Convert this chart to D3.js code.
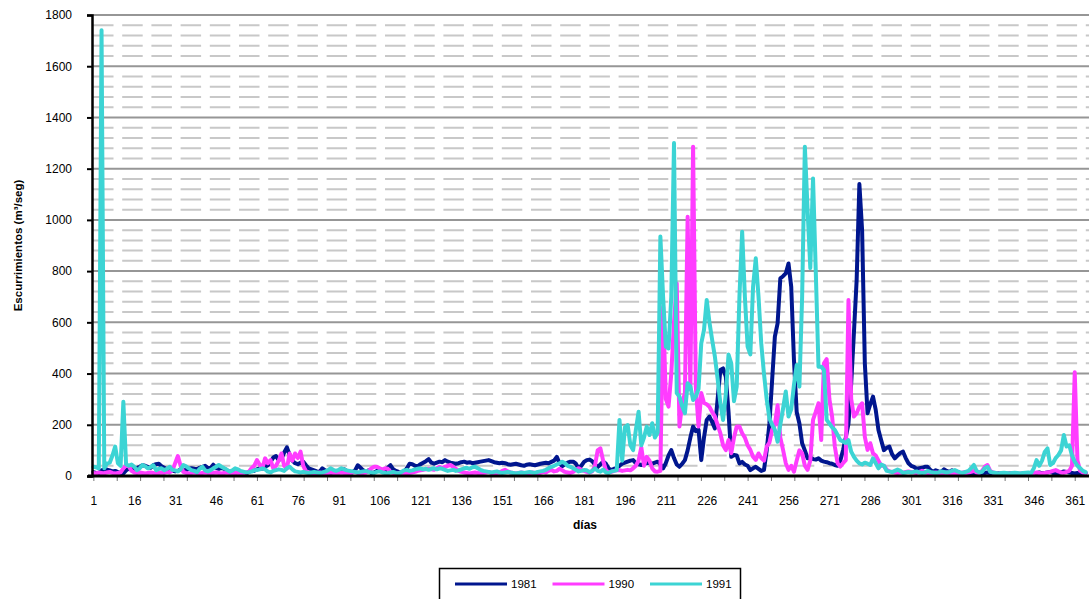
<!DOCTYPE html>
<html><head><meta charset="utf-8">
<script src="https://cdn.jsdelivr.net/npm/d3@7"></script>
<style>
body{margin:0;background:#fff}
svg{display:block}
text{font-family:Arial,"Liberation Sans",sans-serif;fill:#000}
</style>
</head><body>
<svg id="c" width="1089" height="599"></svg>
<script>
// ---------------- DATA ----------------
const days = d3.range(1, 366);            // día 1 … 365 (categories)
const xTickLabels = [1,16,31,46,61,76,91,106,121,136,151,166,181,196,211,226,241,256,271,286,301,316,331,346,361];
const yTickValues = [0,200,400,600,800,1000,1200,1400,1600,1800];
const seriesNames = ["1981","1990","1991"];
const yAxisTitle = "Escurrimientos (m³/seg)";
const xAxisTitle = "días";

const q1981 = [
15,12,10,22,26,25,22,18,20,15,
12,10,22,30,25,28,32,36,42,40,
36,32,42,46,48,38,32,26,22,20,
18,20,26,24,22,28,30,28,26,32,
36,40,32,30,44,32,28,32,28,22,
16,15,12,15,12,10,10,16,20,20,
26,30,28,36,42,56,72,78,62,68,
92,112,82,60,50,46,52,56,42,30,
26,22,18,16,30,22,16,12,10,15,
18,22,26,20,16,14,22,42,32,22,
16,22,12,14,20,28,24,20,32,42,
26,20,16,14,16,30,48,46,40,38,
46,52,58,66,52,48,52,56,54,62,
56,52,50,48,50,54,56,52,54,50,
52,54,56,58,60,62,58,54,52,50,
52,50,46,44,46,48,45,42,40,44,
46,44,42,45,48,50,52,50,55,60,
75,50,38,46,52,56,56,48,30,40,
55,62,64,58,45,35,45,56,48,30,
23,28,30,40,48,52,56,60,62,50,
46,43,46,50,52,48,52,56,45,30,
50,80,101,70,45,36,48,62,100,150,
193,175,180,62,150,219,232,210,186,300,
414,420,388,250,75,82,80,49,55,45,
40,23,30,36,28,20,24,100,205,375,
544,596,772,780,791,830,739,453,250,205,
128,100,69,72,66,64,69,60,56,54,
50,48,43,40,60,101,150,205,362,560,
765,1140,960,440,245,280,310,258,180,140,
101,110,115,85,69,80,90,95,70,50,
40,36,28,30,32,36,36,24,16,22,
18,16,26,20,16,22,14,12,10,12,
14,12,10,12,10,8,10,12,14,10,
8,10,12,10,8,8,10,12,10,8,
8,10,8,10,12,10,12,14,10,12,
14,16,12,10,12,14,18,16,14,12,
10,12,8,10,12];

const q1990 = [
12,10,14,12,10,14,16,12,10,12,
14,30,42,38,20,14,12,14,12,10,
12,14,12,10,12,14,12,16,14,22,
50,78,40,16,12,10,12,14,12,10,
12,14,12,10,12,14,12,10,12,14,
12,10,12,14,12,10,14,16,30,40,
62,45,30,69,50,62,30,40,60,88,
40,30,88,60,88,70,95,40,18,14,
12,10,12,14,12,10,12,14,12,10,
12,14,12,10,12,14,16,12,10,12,
14,20,30,36,36,30,24,30,28,16,
12,10,12,14,12,10,12,14,16,20,
22,24,26,28,26,24,30,36,32,36,
40,43,36,28,20,16,14,12,10,12,
14,12,10,12,14,16,12,10,12,14,
20,24,18,14,12,10,12,14,12,10,
12,14,12,10,12,16,14,20,24,18,
20,28,22,16,14,12,16,24,30,24,
20,16,14,18,40,100,108,60,24,14,
16,20,22,23,20,22,24,22,30,40,
60,112,40,75,60,30,18,17,20,661,
300,271,400,600,752,193,284,324,1012,339,
1286,349,193,324,285,280,270,250,232,200,
167,120,101,140,89,150,193,193,167,150,
120,102,75,63,88,70,60,115,130,180,
200,276,150,102,50,24,40,17,60,100,
89,40,24,60,219,250,284,141,440,456,
300,232,115,50,37,50,62,687,300,232,
245,271,284,153,102,128,88,80,60,40,
40,25,18,16,14,12,14,12,16,18,
16,14,12,16,20,14,12,10,12,14,
12,10,12,14,12,10,12,10,12,14,
12,14,16,20,14,12,20,36,43,20,
14,12,10,12,10,8,10,12,10,8,
10,8,10,12,10,12,14,12,10,12,
14,16,20,23,18,14,12,16,20,40,
405,60,20,14,12];

const q1991 = [
36,34,30,1740,30,49,52,80,115,50,
40,290,46,40,45,36,23,30,43,38,
30,35,42,23,28,30,23,28,36,24,
22,18,26,43,38,30,23,20,15,28,
36,22,18,23,30,36,43,36,30,24,
17,22,30,26,20,17,14,15,17,22,
23,26,30,26,17,14,20,23,26,24,
20,30,36,26,18,16,14,16,14,12,
14,16,14,12,14,17,22,30,24,20,
24,30,26,22,20,18,16,14,16,18,
20,16,14,12,16,18,14,12,10,14,
16,12,10,16,22,24,20,22,26,28,
30,26,28,24,28,30,26,30,28,24,
20,22,24,20,22,26,30,32,28,34,
36,30,24,20,18,16,14,16,18,14,
12,14,16,14,12,10,12,14,12,14,
16,14,12,16,18,20,24,30,36,40,
45,49,56,50,40,36,30,24,18,20,
23,22,15,20,30,20,17,25,14,12,
18,20,23,219,60,190,199,120,101,180,
251,120,150,193,160,206,150,170,935,700,
505,498,700,1300,324,310,272,245,362,350,
297,310,340,518,570,687,600,531,466,380,
284,219,320,474,440,292,349,700,954,700,
505,475,739,850,700,518,400,300,225,200,
180,134,200,263,330,232,260,355,433,349,
700,1286,1039,812,1162,800,427,427,414,219,
205,190,180,160,140,135,129,140,95,75,
60,49,45,52,48,43,69,50,30,45,
40,20,18,15,20,25,20,12,14,16,
14,16,18,14,12,14,20,16,14,12,
14,18,16,14,16,20,23,18,14,12,
16,20,30,43,20,14,16,30,36,16,
14,12,10,12,13,12,10,12,13,12,
10,12,13,14,12,30,62,40,60,94,
108,43,50,70,82,100,160,115,120,80,
56,40,30,20,15];

const seriesValues = [q1981, q1990, q1991];
const colors = ["#00168e", "#ff3cff", "#3cd4d4"];

// ---------------- CHART ----------------
const svg = d3.select("#c");
const L = 92, R = 1087, T = 15, B = 476, GRID_R = 1089;
const x = d3.scaleLinear().domain([0.5, 365.5]).range([L, R]);
const y = d3.scaleLinear().domain([0, 1800]).range([B, T]);

// minor dashed grid
const minor = d3.range(40, 1800, 40).filter(v => v % 200 !== 0);
svg.append("g").selectAll("line").data(minor).join("line")
  .attr("x1", L + 1).attr("x2", GRID_R)
  .attr("y1", d => y(d)).attr("y2", d => y(d))
  .attr("stroke", "#c8c8c8").attr("stroke-width", 2)
  .attr("stroke-dasharray", "20.5,8.7");

// major solid grid
svg.append("g").selectAll("line").data(yTickValues.filter(v => v > 0)).join("line")
  .attr("x1", L).attr("x2", GRID_R)
  .attr("y1", d => y(d)).attr("y2", d => y(d))
  .attr("stroke", "#969696").attr("stroke-width", 2);

// series
const line = d3.line().x((d, i) => x(days[i])).y(d => y(d));
seriesValues.forEach((vals, k) => {
  svg.append("path").datum(vals)
    .attr("d", line)
    .attr("fill", "none")
    .attr("stroke", colors[k])
    .attr("stroke-width", 4)
    .attr("stroke-linejoin", "round")
    .attr("stroke-linecap", "round");
});

// y axis
const yAxis = d3.axisLeft(y).tickValues(yTickValues).tickSize(5).tickPadding(15).tickFormat(d3.format("d"));
const gy = svg.append("g").attr("transform", `translate(${L},0)`).call(yAxis);
gy.select(".domain").attr("stroke", "#000").attr("stroke-width", 2.5);
gy.selectAll(".tick line").attr("stroke", "#000").attr("stroke-width", 2);
gy.selectAll(".tick text").attr("font-size", 12).attr("font-family", "Arial, 'Liberation Sans', sans-serif").attr("fill", "#000");

// x axis (labels every 15 días)
const xAxis = d3.axisBottom(x).tickValues(xTickLabels).tickSize(0).tickPadding(20).tickFormat(d3.format("d"));
const gx = svg.append("g").attr("transform", `translate(0,${B})`).call(xAxis);
gx.select(".domain").remove();
gx.selectAll(".tick text").attr("font-size", 12).attr("font-family", "Arial, 'Liberation Sans', sans-serif").attr("fill", "#000");
// small tick marks
svg.append("g").selectAll("line").data(d3.range(1, 366, 60 / 7)).join("line")
  .attr("x1", d => x(d) + 0.5).attr("x2", d => x(d) + 0.5)
  .attr("y1", B).attr("y2", B + 5)
  .attr("stroke", "#777").attr("stroke-width", 1);
svg.append("line").attr("x1", L - 4).attr("x2", GRID_R).attr("y1", B).attr("y2", B)
  .attr("stroke", "#000").attr("stroke-width", 3);

// axis titles
svg.append("text")
  .attr("transform", `translate(22,${(T + B) / 2}) rotate(-90)`)
  .attr("text-anchor", "middle").attr("font-size", 11.5).attr("font-weight", "bold")
  .text(yAxisTitle);
svg.append("text")
  .attr("x", 585).attr("y", 529)
  .attr("text-anchor", "middle").attr("font-size", 12).attr("font-weight", "bold")
  .text(xAxisTitle);

// legend
const lg = svg.append("g");
lg.append("rect").attr("x", 439.5).attr("y", 568.5).attr("width", 301).attr("height", 40)
  .attr("fill", "#fff").attr("stroke", "#000").attr("stroke-width", 1.5);
seriesNames.forEach((n, k) => {
  const x0 = 455 + k * 97.5;
  lg.append("line").attr("x1", x0).attr("x2", x0 + 52).attr("y1", 584).attr("y2", 584)
    .attr("stroke", colors[k]).attr("stroke-width", 3);
  lg.append("text").attr("x", x0 + 56).attr("y", 588).attr("font-size", 11.5).text(n);
});
</script>
</body></html>
